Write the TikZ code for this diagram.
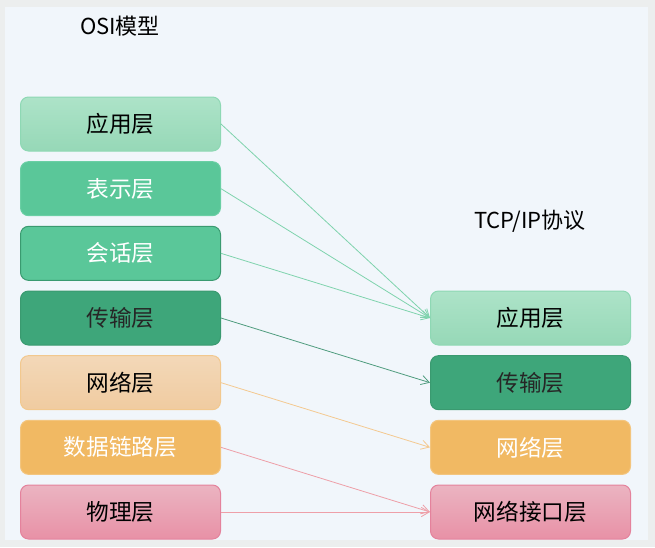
\documentclass[tikz,border=0pt]{standalone}
\usepackage{fontspec}
\setmainfont{Noto Sans CJK SC}
\usetikzlibrary{positioning, arrows.meta}

\definecolor{outergray}{HTML}{ECEEEE}
\definecolor{panel}{HTML}{F1F6FB}
\definecolor{minttop}{HTML}{ADE3C8}
\definecolor{mintbot}{HTML}{96D8B7}
\definecolor{mintline}{HTML}{8ED8B4}
\definecolor{midgreen}{HTML}{5AC799}
\definecolor{midline}{HTML}{6ACFA4}
\definecolor{deepgreen}{HTML}{3EA67A}
\definecolor{deepline}{HTML}{3A9A70}
\definecolor{peachtop}{HTML}{F3D8B8}
\definecolor{peachbot}{HTML}{F0CBA0}
\definecolor{peachline}{HTML}{F2C88E}
\definecolor{amber}{HTML}{F1B963}
\definecolor{amberline}{HTML}{F3C57E}
\definecolor{pinktop}{HTML}{EBB4C1}
\definecolor{pinkbot}{HTML}{E891A6}
\definecolor{pinkline}{HTML}{E4829C}
\definecolor{arrmint}{HTML}{7FD3AD}
\definecolor{arrdeep}{HTML}{4F9C7E}
\definecolor{arrpeach}{HTML}{F4C990}
\definecolor{arrpink}{HTML}{EE9FA8}

\begin{document}
\begin{tikzpicture}[
            x=0.75pt, y=-0.75pt,
            node distance=7.25pt and 156.75pt,
            layer/.style={rounded corners=6pt, minimum width=150pt, minimum height=40.5pt,
                          line width=0.75pt, font=\fontsize{17}{20}\selectfont},
            mintbox/.style={layer, draw=mintline, top color=minttop, bottom color=mintbot},
            midbox/.style={layer, draw=midline, fill=midgreen, text=white},
            deepbox/.style={layer, draw=deepline, fill=deepgreen, text=black!85},
            peachbox/.style={layer, draw=peachline, top color=peachtop, bottom color=peachbot},
            amberbox/.style={layer, draw=amberline, fill=amber, text=white},
            pinkbox/.style={layer, draw=pinkline, top color=pinktop, bottom color=pinkbot},
            title/.style={font=\fontsize{16.5}{20}\selectfont},
            link/.style={-{Straight Barb[length=6pt,width=7pt]}, line width=0.6pt}
            ]

        % background
        \fill[outergray] (0,0) rectangle (655,547);
        \fill[panel] (5,7) rectangle (648,540);
        \useasboundingbox (0,0) rectangle (655,547);

        % titles
        \node[title] (osititle) at (120,26) {OSI模型};
        \node[title] (tcptitle) at (530,221) {TCP/IP协议};

        % OSI layers
        \node[mintbox] (osiapp) at (120.5,124) {应用层};
        \node[midbox, below=of osiapp] (osipres) {表示层};
        \node[midbox, draw=deepline, below=of osipres] (osisess) {会话层};
        \node[deepbox, below=of osisess] (ositrans) {传输层};
        \node[peachbox, below=of ositrans] (osinet) {网络层};
        \node[amberbox, below=of osinet] (osilink) {数据链路层};
        \node[pinkbox, below=of osilink] (osiphys) {物理层};

        % TCP/IP layers
        \node[mintbox, right=of ositrans] (tcpapp) {应用层};
        \node[deepbox, below=of tcpapp] (tcptrans) {传输层};
        \node[amberbox, below=of tcptrans] (tcpnet) {网络层};
        \node[pinkbox, below=of tcpnet] (tcpif) {网络接口层};

        % mapping
        \draw[link, arrmint] (osiapp.east) -- (tcpapp.west);
        \draw[link, arrmint] (osipres.east) -- (tcpapp.west);
        \draw[link, arrmint] (osisess.east) -- (tcpapp.west);
        \draw[link, arrdeep] (ositrans.east) -- (tcptrans.west);
        \draw[link, arrpeach] (osinet.east) -- (tcpnet.west);
        \draw[link, arrpink] (osilink.east) -- (tcpif.west);
        \draw[link, arrpink] (osiphys.east) -- (tcpif.west);
        \end{tikzpicture}
\end{document}
